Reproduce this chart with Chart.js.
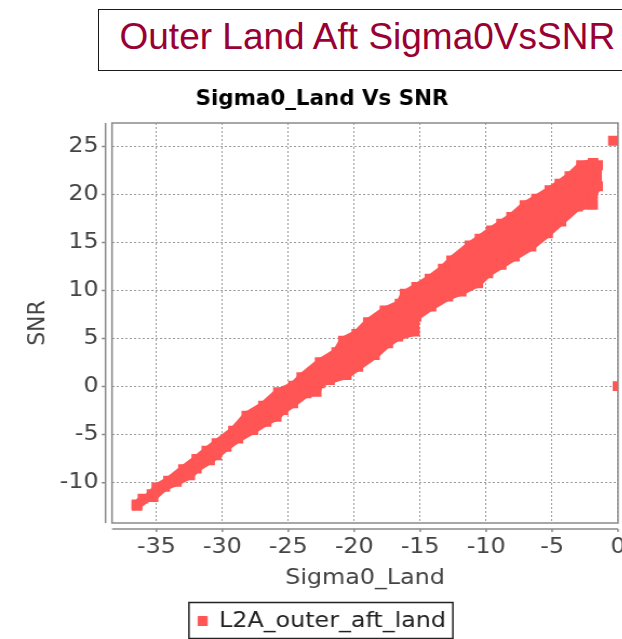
<!DOCTYPE html>
<html>
<head>
<meta charset="utf-8">
<script src="https://cdn.jsdelivr.net/npm/chart.js@4.4.1/dist/chart.umd.min.js"></script>
<style>
  html, body { margin: 0; padding: 0; background: #fff; overflow: hidden; width: 622px; height: 639px; }
  #chart { position: absolute; left: 0; top: 0; }
  #banner {
    position: absolute; left: 98px; top: 9px; width: 560px; height: 61.5px;
    box-sizing: border-box; border: 1.5px solid #1a1a1a; background: #fff;
  }
  #banner span {
    position: absolute; left: 20.5px; top: 8.2px; white-space: nowrap;
    font: 37px/37px "Liberation Sans", Arial, sans-serif; color: #990033;
  }
</style>
</head>
<body>
<div id="banner"><span>Outer Land Aft Sigma0VsSNR</span></div>
<!-- source image is stretched sideways a little, so the canvas is drawn narrow and shown wider -->
<canvas id="chart" width="596" height="642" style="width:644px;height:642px"></canvas>
<script>
Chart.defaults.font.family = "'DejaVu Sans', sans-serif";

// outline of the dense point cloud: upper edge left to right, then lower edge back
const cloudX = [
  -36.48, -35.34, -34.97, -34.08, -32.95, -31.94, -31.18, -30.42, -29.16, -28.15,
  -26.89, -25.75, -24.61, -23.98, -22.59, -21.33, -20.82, -19.81, -18.93, -17.67,
  -16.53, -16.15, -15.27, -14.26, -13.25, -12.62, -11.23, -10.47, -9.59, -8.83,
  -8.07, -7.06, -6.18, -5.17, -4.41, -3.65, -2.77, -1.89, -1.55, -1.55,
  -1.93, -1.93,
  -3.06, -4.33, -5.34, -6.60, -7.86, -8.87, -9.88, -10.64, -11.90, -12.91,
  -14.18, -15.31, -15.44, -16.70, -17.46, -18.47, -19.73, -20.61, -21.88, -22.63,
  -22.89, -23.64, -24.66, -25.41, -25.92, -26.68, -27.69, -28.82, -29.71, -30.46,
  -30.97, -31.98, -32.48, -33.49, -34.38, -35.26, -36.02, -36.48
];
const cloudY = [
  -12.41, -11.19, -10.50, -9.80, -8.59, -7.54, -6.68, -5.88, -4.59, -3.03,
  -1.98, -0.59, 0.10, 0.97, 2.53, 3.58, 4.79, 5.49, 6.71, 7.92,
  8.62, 9.66, 10.36, 11.22, 12.27, 13.14, 14.70, 15.40, 16.26, 16.96,
  17.65, 18.87, 19.57, 20.44, 21.13, 21.90, 23.04, 23.29, 23.04, 20.84,
  19.97, 18.93,
  18.75, 17.19, 15.97, 14.58, 13.54, 12.67, 11.80, 10.76, 9.89, 9.37,
  8.33, 7.28, 5.72, 5.20, 4.50, 3.29, 2.07, 1.20, 0.68, 0.33,
  -0.54, -0.71, -1.75, -2.45, -3.14, -3.66, -4.53, -5.40, -6.27, -7.14,
  -7.66, -8.53, -9.23, -9.92, -10.44, -11.49, -11.66, -12.28
];
// two stray points at the right edge
const strayX = [-0.35, 0];
const strayY = [25.6, 0.05];

const seriesName = "L2A_outer_aft_land";
const red = "#ff5555";
const tickFont = { size: 22, lineHeight: 1.2 };

// plot frame, offset axis lines with tick marks, legend frame
const axisFrame = {
  id: "axisFrame",
  afterDraw(chart) {
    const { ctx, chartArea: a, scales: { x, y } } = chart;
    ctx.save();
    ctx.strokeStyle = "#8a8a8a";
    ctx.lineWidth = 1.5;
    ctx.strokeRect(a.left, a.top, a.right - a.left, a.bottom - a.top);

    const ax = a.left - 6;
    const ay = a.bottom + 6;
    ctx.beginPath();
    ctx.moveTo(ax, a.top);
    ctx.lineTo(ax, a.bottom);
    ctx.moveTo(a.left, ay);
    ctx.lineTo(a.right, ay);
    y.ticks.forEach((t) => {
      const py = y.getPixelForValue(t.value);
      ctx.moveTo(ax, py);
      ctx.lineTo(ax - 3.5, py);
    });
    x.ticks.forEach((t) => {
      const px = x.getPixelForValue(t.value);
      ctx.moveTo(px, ay);
      ctx.lineTo(px, ay + 3);
    });
    ctx.stroke();

    const hb = chart.legend.legendHitBoxes[0];
    if (hb) {
      ctx.strokeStyle = "#222";
      ctx.lineWidth = 1.5;
      ctx.strokeRect(hb.left - 8.5, hb.top - 7.5, hb.width + 15, hb.height + 14);
    }
    ctx.restore();
  },
};

const ctx = document.getElementById("chart").getContext("2d");
const myChart = new Chart(ctx, {
  type: "scatter",
  data: {
    datasets: [
      {
        label: seriesName,
        data: cloudX.map((v, i) => ({ x: v, y: cloudY[i] })),
        showLine: true,
        fill: "shape",
        backgroundColor: red,
        borderColor: red,
        borderWidth: 8,
        borderJoinStyle: "round",
        pointStyle: "rect",
        pointRadius: 7,
        pointBorderWidth: 0,
        clip: 0,
      },
      {
        label: seriesName,
        data: strayX.map((v, i) => ({ x: v, y: strayY[i] })),
        backgroundColor: red,
        borderColor: red,
        pointStyle: "rect",
        pointRadius: 7,
        pointBorderWidth: 0,
        clip: 0,
      },
    ],
  },
  options: {
    responsive: false,
    devicePixelRatio: 1,
    animation: false,
    events: [],
    scales: {
      x: {
        type: "linear",
        min: -38.37,
        max: 0,
        afterFit: (s) => { s.height = 72; },
        ticks: {
          stepSize: 5,
          includeBounds: false,
          autoSkip: false,
          maxRotation: 0,
          padding: 11,
          color: "#444",
          font: tickFont,
        },
        grid: { color: "#9a9a9a", lineWidth: 1, drawTicks: false },
        border: { display: false, dash: [2, 2] },
        title: {
          display: true,
          text: "Sigma0_Land",
          color: "#444",
          font: tickFont,
          padding: { top: 0, bottom: 4 },
        },
      },
      y: {
        type: "linear",
        min: -14.2,
        max: 27.44,
        afterFit: (s) => { s.width = 103.66; },
        ticks: {
          stepSize: 5,
          includeBounds: false,
          padding: 12.5,
          color: "#444",
          font: tickFont,
        },
        grid: { color: "#9a9a9a", lineWidth: 1, drawTicks: false },
        border: { display: false, dash: [2, 2] },
        title: {
          display: true,
          text: "SNR",
          color: "#444",
          font: tickFont,
          padding: { top: 22.2, bottom: 0 },
        },
      },
      // empty right-hand strip so the title and legend stay centred on the canvas
      yr: {
        type: "linear",
        position: "right",
        afterFit: (s) => { s.width = 24.04; },
        ticks: { display: false },
        grid: { display: false },
        border: { display: false },
      },
    },
    plugins: {
      title: {
        display: true,
        text: "Sigma0_Land Vs SNR",
        color: "#000",
        font: { family: "'DejaVu Sans Condensed', 'DejaVu Sans', sans-serif", size: 22, weight: "bold", lineHeight: 1.2 },
        padding: { top: 86.5, bottom: 10.1 },
      },
      legend: {
        position: "bottom",
        labels: {
          boxWidth: 8.4,
          boxHeight: 9,
          padding: 15,
          color: "#222",
          font: tickFont,
          generateLabels: (chart) =>
            Chart.defaults.plugins.legend.labels.generateLabels(chart)
              .filter((item) => item.datasetIndex === 0)
              .map((item) => ({ ...item, lineWidth: 1 })),
        },
      },
      tooltip: { enabled: false },
    },
  },
  plugins: [axisFrame],
});
</script>
</body>
</html>
